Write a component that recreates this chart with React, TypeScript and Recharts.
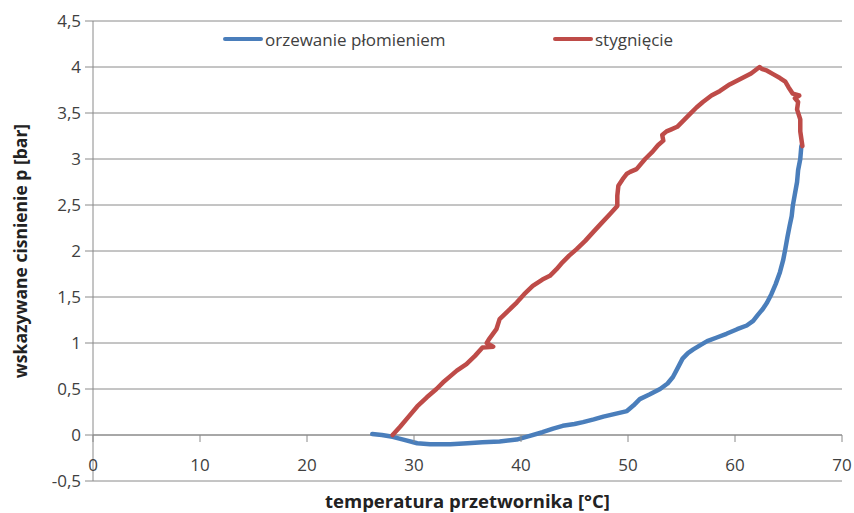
import React from 'react';
import { LineChart, Line, XAxis, YAxis, CartesianGrid, ReferenceLine, Legend, Label } from 'recharts';

const heatingX = [26.1, 27.0, 28.0, 29.0, 30.3, 31.5, 33.4, 35.0, 36.4, 38.0, 39.6, 40.5, 42.0, 43.0, 43.9, 45.0, 45.8, 46.8, 47.7, 48.8, 49.9, 50.5, 51.1, 52.0, 53.0, 53.7, 54.2, 54.7, 55.1, 55.6, 56.1, 56.8, 57.4, 58.3, 59.2, 60.2, 61.1, 61.7, 62.1, 62.6, 63.0, 63.4, 63.8, 64.2, 64.5, 64.7, 64.9, 65.1, 65.3, 65.4, 65.6, 65.8, 65.9, 66.1, 66.2];
const heatingY = [0.01, 0.0, -0.02, -0.05, -0.09, -0.1, -0.1, -0.09, -0.08, -0.07, -0.05, -0.02, 0.03, 0.07, 0.1, 0.12, 0.14, 0.17, 0.2, 0.23, 0.26, 0.32, 0.39, 0.44, 0.5, 0.56, 0.63, 0.74, 0.83, 0.89, 0.93, 0.98, 1.02, 1.06, 1.1, 1.15, 1.19, 1.24, 1.3, 1.37, 1.44, 1.53, 1.64, 1.77, 1.9, 2.02, 2.15, 2.27, 2.38, 2.49, 2.62, 2.75, 2.88, 3.0, 3.14];

const coolingX = [66.3, 66.1, 66.1, 65.8, 65.9, 65.6, 66.0, 65.4, 65.0, 64.7, 64.2, 63.6, 63.0, 62.5, 62.3, 61.5, 60.5, 59.5, 58.6, 57.8, 57.0, 56.4, 55.8, 55.2, 54.6, 54.0, 53.6, 53.2, 53.3, 52.8, 52.3, 51.6, 50.8, 50.2, 49.9, 49.5, 49.1, 49.0, 49.0, 48.3, 47.5, 46.7, 46.0, 45.2, 44.5, 43.9, 43.3, 42.7, 42.0, 41.1, 40.3, 39.6, 38.8, 38.0, 37.7, 37.0, 36.8, 37.4, 36.4, 35.7, 34.9, 34.0, 33.4, 32.7, 32.1, 31.2, 30.3, 29.5, 28.7, 28.0];
const coolingY = [3.14, 3.3, 3.43, 3.54, 3.62, 3.66, 3.69, 3.71, 3.78, 3.84, 3.88, 3.92, 3.96, 3.98, 4.0, 3.93, 3.87, 3.81, 3.74, 3.69, 3.62, 3.56, 3.49, 3.42, 3.35, 3.32, 3.3, 3.26, 3.2, 3.15, 3.08, 3.0, 2.89, 2.86, 2.84, 2.78, 2.71, 2.6, 2.49, 2.4, 2.3, 2.2, 2.11, 2.02, 1.95, 1.88, 1.8, 1.73, 1.69, 1.62, 1.53, 1.44, 1.35, 1.26, 1.15, 1.04, 1.0, 0.96, 0.95, 0.86, 0.77, 0.7, 0.64, 0.57, 0.5, 0.41, 0.31, 0.2, 0.09, 0.0];

const xTicks = [0, 10, 20, 30, 40, 50, 60, 70];
const yTicks = [-0.5, 0, 0.5, 1, 1.5, 2, 2.5, 3, 3.5, 4, 4.5];
const seriesNames = ['orzewanie płomieniem', 'stygnięcie'];
const xTitle = 'temperatura przetwornika [°C]';
const yTitle = 'wskazywane cisnienie p [bar]';

const heatingData = heatingX.map((x, i) => ({ x, y: heatingY[i] }));
const coolingData = coolingX.map((x, i) => ({ x, y: coolingY[i] }));

const W = 854;
const H = 513;
const MARGIN = { top: 21, right: 12, bottom: 0, left: 0 };
const Y_AXIS_W = 93;
const X_AXIS_H = 32;
const PLOT_H = H - MARGIN.top - MARGIN.bottom - X_AXIS_H;
const Y_MIN = -0.5;
const Y_MAX = 4.5;
const BLUE = '#4A7EBB';
const RED = '#BE4B48';
const GRID = '#8A8A8A';
const TEXT = '#404040';
const FONT = 'Open Sans, sans-serif';

const fmt = (v: number) => String(v).replace('.', ',');

const XTick = (props: any) => {
  const { x, payload } = props;
  const axisY = MARGIN.top + (PLOT_H * (Y_MAX - 0)) / (Y_MAX - Y_MIN);
  return (
    <g>
      <line x1={x} x2={x} y1={axisY} y2={axisY + 7} stroke={GRID} strokeWidth={1} />
      <text x={x} y={axisY + 29} textAnchor="middle" dominantBaseline="central" fill={TEXT} fontSize={17} fontFamily={FONT}>
        {fmt(payload.value)}
      </text>
    </g>
  );
};

const LegendContent = () => (
  <div style={{ position: 'relative', height: 0, width: W, fontFamily: FONT, fontSize: 17, color: TEXT }}>
    {[
      { name: seriesNames[0], color: BLUE, left: 223 },
      { name: seriesNames[1], color: RED, left: 553 },
    ].map((it) => (
      <div key={it.name} style={{ position: 'absolute', left: it.left, top: 0, height: 22, display: 'flex', alignItems: 'center', whiteSpace: 'nowrap' }}>
        <span style={{ display: 'inline-block', width: 40, height: 4, borderRadius: 2, background: it.color, marginRight: 2 }} />
        <span>{it.name}</span>
      </div>
    ))}
  </div>
);

export default function App() {
  return (
    <div style={{ position: 'absolute', left: 0, top: 0, background: '#fff' }}>
      <LineChart width={W} height={H} margin={MARGIN}>
        <CartesianGrid vertical={false} stroke={GRID} strokeWidth={1} />
        <XAxis
          type="number"
          dataKey="x"
          domain={[0, 70]}
          ticks={xTicks}
          interval={0}
          height={X_AXIS_H}
          axisLine={false}
          tickLine={false}
          tick={<XTick />}
          allowDuplicatedCategory={false}
        >
          <Label
            content={(p: any) => {
              const vb = p.viewBox;
              return (
                <text x={vb.x + vb.width / 2} y={500} textAnchor="middle" dominantBaseline="central" fontWeight="bold" fontSize={18.5} fill="#222" fontFamily={FONT}>
                  {xTitle}
                </text>
              );
            }}
          />
        </XAxis>
        <YAxis
          type="number"
          domain={[Y_MIN, Y_MAX]}
          ticks={yTicks}
          interval={0}
          width={Y_AXIS_W}
          axisLine={{ stroke: GRID }}
          tickLine={{ stroke: GRID }}
          tickSize={8}
          tickMargin={4}
          tickFormatter={fmt}
          tick={{ fill: TEXT, fontSize: 17, fontFamily: FONT }}
        >
          <Label
            content={(p: any) => {
              const vb = p.viewBox;
              const cx = 20;
              const cy = vb.y + vb.height / 2;
              return (
                <text x={cx} y={cy} transform={`rotate(-90 ${cx} ${cy})`} textAnchor="middle" dominantBaseline="central" fontWeight="bold" fontSize={17.5} fill="#222" fontFamily={FONT}>
                  {yTitle}
                </text>
              );
            }}
          />
        </YAxis>
        <ReferenceLine y={0} stroke={GRID} strokeWidth={1} />
        <Legend verticalAlign="top" wrapperStyle={{ position: 'absolute', top: 28, left: 0, height: 0 }} content={<LegendContent />} />
        <Line data={heatingData} dataKey="y" name={seriesNames[0]} stroke={BLUE} strokeWidth={4.5} dot={false} isAnimationActive={false} strokeLinejoin="round" strokeLinecap="round" />
        <Line data={coolingData} dataKey="y" name={seriesNames[1]} stroke={RED} strokeWidth={4.5} dot={false} isAnimationActive={false} strokeLinejoin="round" strokeLinecap="round" />
      </LineChart>
    </div>
  );
}
